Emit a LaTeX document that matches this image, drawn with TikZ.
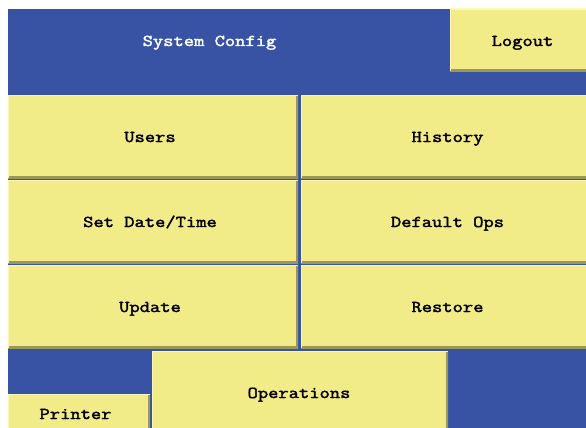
\documentclass[tikz,border=0pt]{standalone}
\usepackage{fontspec}
\newfontfamily\panelfont{Latin Modern Mono}[FakeStretch=1.21, FakeBold=2.2]
\definecolor{panelblue}{HTML}{3853A4}
\definecolor{btnyellow}{HTML}{F2EC88}
\definecolor{btnshade}{HTML}{9A9858}
\definecolor{btnlight}{HTML}{FAF6BC}
\tikzset{
  btn/.style={fill=btnyellow, inner sep=0pt, outer sep=0pt,
    path picture={
      \draw[btnshade, line width=4pt]
        (path picture bounding box.south west) -- (path picture bounding box.south east)
        -- (path picture bounding box.north east);
      \draw[btnlight, line width=2pt]
        (path picture bounding box.south west) -- (path picture bounding box.north west)
        -- (path picture bounding box.north east);
    }},
  btntext/.style={font=\panelfont\fontsize{16.5}{18}\selectfont, text=black,
    inner sep=0pt, anchor=base},
  title/.style={btntext, text=white}
}
% button from corner (x1,y1) to (x2,y2), y measured downward;
% its caption is centred at x = #6 on the baseline y = #7
\newcommand{\panelbtn}[8]{%
  \node[btn, minimum width={(#4-#2)*1pt}, minimum height={(#5-#3)*1pt}]
    (#1) at ({(#2+#4)/2}, {-(#3+#5)/2}) {};
  \node[btntext] (#1-text) at (#6,-#7) {#8};}
\begin{document}
\begin{tikzpicture}[x=1pt, y=1pt]
  \useasboundingbox (0,0) rectangle (586,-428);
  \fill[white] (0,0) rectangle (586,-428);
  \begin{scope}
    \clip (0,0) rectangle (586,-428);
    \fill[panelblue] (8,-9) rectangle (586,-428);
    \node[title] (hdr) at (209.5,-46) {System Config};
    \panelbtn{logout}{450}{9}{588}{71}{522.5}{46}{Logout}
    \panelbtn{users}{8}{95}{298}{178}{150}{142}{Users}
    \panelbtn{history}{301}{95}{588}{178}{447.5}{142}{History}
    \panelbtn{datetime}{8}{180}{298}{263}{150}{227}{Set Date/Time}
    \panelbtn{defops}{301}{180}{588}{263}{447.5}{227}{Default Ops}
    \panelbtn{update}{8}{265}{298}{348}{150}{312}{Update}
    \panelbtn{restore}{301}{265}{588}{348}{447.5}{312}{Restore}
    \panelbtn{operations}{152}{351}{448}{430}{299}{398}{Operations}
    \panelbtn{printer}{8}{394}{150}{432}{75.5}{419}{Printer}
  \end{scope}
\end{tikzpicture}
\end{document}
